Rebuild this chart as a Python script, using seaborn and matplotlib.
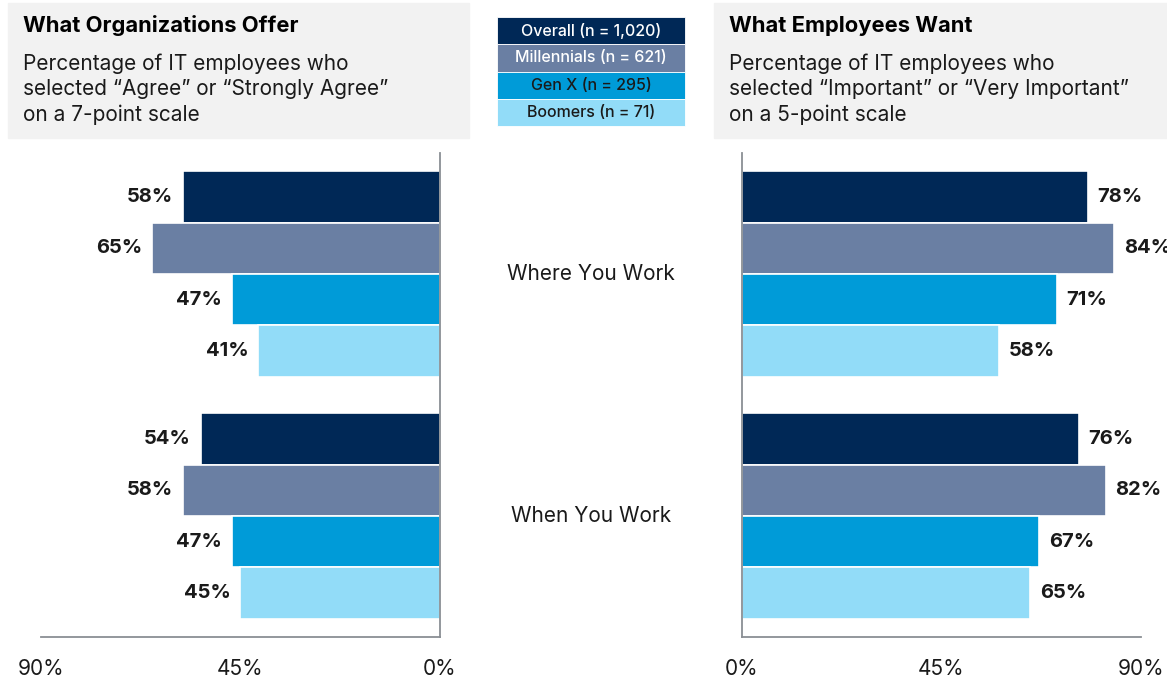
import pandas as pd
import seaborn as sns
import matplotlib.pyplot as plt
import matplotlib.transforms as mtransforms
from matplotlib.patches import Rectangle

# Data
categories = ['Where You Work', 'When You Work']
groups = ['Overall (n = 1,020)', 'Millennials (n = 621)', 'Gen X (n = 295)', 'Boomers (n = 71)']
offer_where = [58, 65, 47, 41]
offer_when = [54, 58, 47, 45]
want_where = [78, 84, 71, 58]
want_when = [76, 82, 67, 65]
tick_values = [0, 45, 90]

colors = ['#002856', '#6a7fa3', '#009bd8', '#92dcf8']
label_colors = ['white', 'white', '#1a1a1a', '#1a1a1a']
text_color = '#1a1a1a'
spine_color = '#8a8f94'
box_color = '#f2f2f2'


def long_table(where_vals, when_vals):
    rows = []
    for cat, vals in zip(categories, [where_vals, when_vals]):
        for g, v in zip(groups, vals):
            rows.append({'category': cat, 'group': g, 'value': v})
    return pd.DataFrame(rows)


offer_df = long_table(offer_where, offer_when)
want_df = long_table(want_where, want_when)

sns.set_style('white')
plt.rcParams['font.family'] = ['Inter', 'DejaVu Sans']
plt.rcParams['text.color'] = text_color

W, H = 1167, 680
fig = plt.figure(figsize=(W / 100, H / 100), dpi=100)

ax_l = fig.add_axes([41 / W, 43 / H, 399 / W, 484 / H])
ax_r = fig.add_axes([742 / W, 43 / H, 399 / W, 484 / H])

for ax, df in [(ax_l, offer_df), (ax_r, want_df)]:
    sns.barplot(data=df, x='value', y='category', hue='group', hue_order=groups,
                palette=colors, saturation=1, orient='h', width=0.85,
                edgecolor='white', linewidth=1.2, legend=False, ax=ax)
    ax.set_ylim(1.5, -0.5)
    ax.set_xlabel('')
    ax.set_ylabel('')
    ax.set_yticks([])
    ax.set_xticks(tick_values)
    ax.set_xticklabels([f'{t}%' for t in tick_values], fontsize=15, color=text_color)
    ax.tick_params(axis='x', length=0, pad=16)
    ax.spines['top'].set_visible(False)
    for s in ax.spines.values():
        s.set_color(spine_color)
        s.set_linewidth(1.3)

ax_l.set_xlim(90, 0)
ax_l.spines['left'].set_visible(False)
ax_r.set_xlim(0, 90)
ax_r.spines['right'].set_visible(False)

for ax in [ax_l, ax_r]:
    for cont in ax.containers:
        ax.bar_label(cont, fmt='%.0f%%', padding=7, fontsize=14.5,
                     fontweight='bold', color=text_color)

# Category labels in the middle, tied to the bar groups
trans = mtransforms.blended_transform_factory(fig.transFigure, ax_l.transData)
for i, cat in enumerate(categories):
    fig.text(591 / W, i, cat, transform=trans, ha='center', va='center',
             fontsize=15, color=text_color)

# Header boxes
headers = [
    (8, 469, 'What Organizations Offer',
     'Percentage of IT employees who\nselected \u201cAgree\u201d or \u201cStrongly Agree\u201d\non a 7-point scale'),
    (714, 1167, 'What Employees Want',
     'Percentage of IT employees who\nselected \u201cImportant\u201d or \u201cVery Important\u201d\non a 5-point scale'),
]
for x0, x1, title, sub in headers:
    fig.add_artist(Rectangle((x0 / W, 1 - 138 / H), (x1 - x0) / W, 135 / H,
                             transform=fig.transFigure, color=box_color, zorder=0))
    fig.text((x0 + 15) / W, 1 - 26 / H, title, ha='left', va='center',
             fontsize=15.8, fontweight='bold', color='black')
    fig.text((x0 + 15) / W, 1 - 89 / H, sub, ha='left', va='center',
             fontsize=15, linespacing=1.32, color=text_color)

# Legend as stacked colored boxes
lx0, lx1, ly0, row_h = 497, 685, 17, 27.25
for i, (g, c, tc) in enumerate(zip(groups, colors, label_colors)):
    top = ly0 + i * row_h
    fig.add_artist(Rectangle((lx0 / W, 1 - (top + row_h) / H), (lx1 - lx0) / W, row_h / H,
                             transform=fig.transFigure, facecolor=c, edgecolor='white',
                             linewidth=0.6))
    fig.text((lx0 + lx1) / 2 / W, 1 - (top + row_h / 2) / H, g, ha='center', va='center',
             fontsize=11.5, fontweight='medium', color=tc)

fig.savefig('out.png', dpi=100)
